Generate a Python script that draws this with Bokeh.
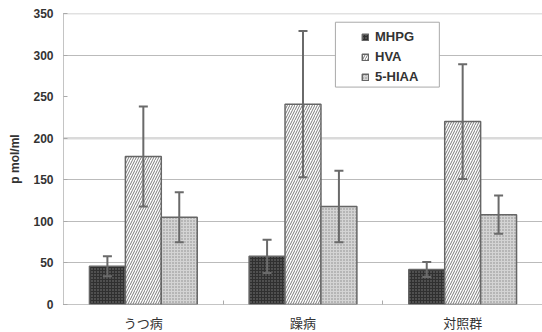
import numpy as np
from bokeh.plotting import figure
from bokeh.models import (ColumnDataSource, Range1d, FixedTicker, Whisker, TeeHead,
                          Legend, LegendItem, Span)
from bokeh.embed import file_html
from bokeh.resources import INLINE

categories = ["うつ病", "躁病", "対照群"]
series = ["MHPG", "HVA", "5-HIAA"]
mhpg = [46, 58, 42]
mhpg_err = [12, 20, 9]
hva = [178, 241, 220]
hva_err = [60, 88, 69]
hiaa = [105, 118, 108]
hiaa_err = [30, 43, 23]
y_ticks = [0, 50, 100, 150, 200, 250, 300, 350]

values = [mhpg, hva, hiaa]
errors = [mhpg_err, hva_err, hiaa_err]

styles = [
    dict(fill_color="#303030", hatch_pattern="dot", hatch_color="#808080", hatch_scale=3, hatch_weight=1),
    dict(fill_color="#ffffff", hatch_pattern="/", hatch_color="#7a7a7a", hatch_scale=5, hatch_weight=1),
    dict(fill_color="#d4d4d4", hatch_pattern="dot", hatch_color="#8a8a8a", hatch_scale=3, hatch_weight=1),
]

p = figure(frame_width=479, frame_height=291, output_backend="svg", toolbar_location=None,
           x_range=Range1d(0, 3), y_range=Range1d(0, 350))
p.min_border_left = 63
p.min_border_right = 0
p.min_border_top = 13
p.min_border_bottom = 20
p.background_fill_color = "white"
p.border_fill_color = "white"
p.outline_line_color = None
p.add_layout(Span(location=350, dimension="width", line_color="#888888", line_width=1.5,
                  line_dash="1 1", level="underlay"))

# legend frame
legend_src = ColumnDataSource(dict(left=[1.703], right=[2.354], top=[339.5], bottom=[261.5]))
p.quad(left="left", right="right", top="top", bottom="bottom", source=legend_src,
       fill_color="white", line_color="#aaaaaa", line_width=1)

bar_w = 0.225
centers = np.arange(len(categories)) + 0.5
renderers = []
for k, (name, vals, errs, st) in enumerate(zip(series, values, errors, styles)):
    xs = centers + (k - 1) * bar_w
    v = np.array(vals, dtype=float)
    e = np.array(errs, dtype=float)
    src = ColumnDataSource(dict(x=xs, top=v, lower=v - e, upper=v + e))
    r = p.vbar(x="x", top="top", width=bar_w, source=src, line_color="#666666", line_width=1.5, **st)
    renderers.append(r)
    w = Whisker(base="x", lower="lower", upper="upper", source=src, dimension="height",
                line_color="#6a6a6a", line_width=2,
                upper_head=TeeHead(size=9, line_color="#6a6a6a", line_width=2),
                lower_head=TeeHead(size=9, line_color="#6a6a6a", line_width=2))
    w.level = "overlay"
    p.add_layout(w)

p.xaxis.ticker = FixedTicker(ticks=list(centers), minor_ticks=[1, 2])
p.xaxis.major_label_overrides = {float(c): lab for c, lab in zip(centers, categories)}
p.xaxis.major_tick_line_color = None
p.xaxis.minor_tick_in = 4
p.xaxis.minor_tick_out = 0
p.xaxis.minor_tick_line_color = "#aaaaaa"
p.xaxis.axis_line_color = "#888888"
p.xaxis.axis_line_dash = "1 1"
p.xaxis.major_label_text_font = "Noto Sans CJK JP"
p.xaxis.major_label_text_font_size = "13px"
p.xaxis.major_label_text_color = "#333333"
p.xaxis.major_label_standoff = 2

p.yaxis.ticker = FixedTicker(ticks=y_ticks)
p.yaxis.minor_tick_line_color = None
p.yaxis.major_tick_in = 4
p.yaxis.major_tick_out = 0
p.yaxis.major_tick_line_color = "#aaaaaa"
p.yaxis.axis_line_color = "#888888"
p.yaxis.axis_line_dash = "1 1"
p.yaxis.major_label_text_font = "Liberation Sans"
p.yaxis.major_label_text_font_style = "bold"
p.yaxis.major_label_text_font_size = "12px"
p.yaxis.major_label_text_color = "#333333"
p.yaxis.major_label_standoff = 10
p.yaxis.axis_label = "p mol/ml"
p.yaxis.axis_label_text_font = "Liberation Sans"
p.yaxis.axis_label_text_font_style = "bold"
p.yaxis.axis_label_text_font_size = "12px"
p.yaxis.axis_label_text_color = "#333333"
p.yaxis.axis_label_standoff = 8

p.xgrid.grid_line_color = None
p.ygrid.ticker = FixedTicker(ticks=[50, 100, 150, 300])
p.ygrid.grid_line_color = "#bbbbbb"
p.ygrid.grid_line_width = 1
p.add_layout(Span(location=200, dimension="width", line_color="#dadada", line_width=2.5, level="underlay"))

legend = Legend(items=[LegendItem(label=s, renderers=[r]) for s, r in zip(series, renderers)],
                location=(294, 216), orientation="vertical",
                glyph_width=8, glyph_height=8, label_height=14, spacing=5,
                padding=4, margin=0, label_standoff=6,
                label_text_font="Liberation Sans", label_text_font_style="bold",
                label_text_font_size="13px", label_text_color="#333333",
                background_fill_alpha=0, border_line_alpha=0)
p.add_layout(legend, "center")

open("out.html", "w").write(file_html(p, INLINE))
